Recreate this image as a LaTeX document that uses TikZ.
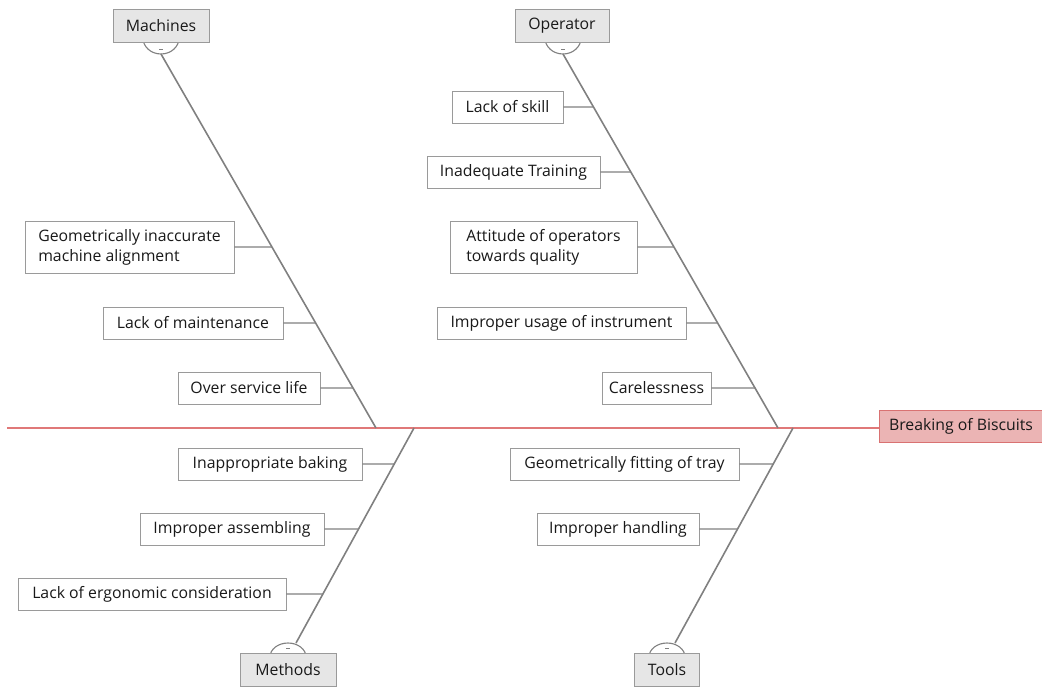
\documentclass[tikz,border=0pt]{standalone}
\usepackage{fontspec}
\setmainfont{Open Sans}
\usetikzlibrary{calc}
\definecolor{bonegray}{HTML}{808080}
\definecolor{boxgray}{HTML}{9A9A9A}
\definecolor{catfill}{HTML}{E6E6E6}
\definecolor{spinered}{HTML}{E07878}
\definecolor{headfill}{HTML}{EBB4B4}
\definecolor{headdraw}{HTML}{D97272}
\tikzset{
  leaf/.style={draw=boxgray, line width=0.9pt, fill=white, inner sep=0pt, font=\fontsize{15.8}{20}\selectfont, align=left, text=black!90},
  cat/.style={draw=boxgray, line width=0.9pt, fill=catfill, inner sep=0pt, font=\fontsize{15.8}{19}\selectfont, text=black!90, minimum height=33pt},
  bone/.style={draw=bonegray, line width=1.6pt},
  twig/.style={draw=bonegray, line width=1.4pt},
  bulb/.style={draw=bonegray, line width=1.1pt, fill=white},
}
\begin{document}
\begin{tikzpicture}[x=1pt,y=-1pt]
\useasboundingbox (0,0) rectangle (1042,686);
% spine
\node[draw=headdraw, fill=headfill, line width=0.9pt, inner sep=0pt, minimum width=170pt, minimum height=32pt, font=\fontsize{15.8}{19}\selectfont, text=black!90, anchor=west] (head) at (879,426) {\hspace*{-7pt}Breaking of Biscuits};
\coordinate (sL) at (7,428);
\draw[spinered, line width=1.3pt] (sL) -- (sL -| head.west);

% bone coordinates
\coordinate (mA) at (161,54);  \coordinate (mB) at (376,428);
\coordinate (oA) at (563,54);  \coordinate (oB) at (778,428);
\coordinate (tA) at (414,428); \coordinate (tB) at (296,643);
\coordinate (uA) at (793,428); \coordinate (uB) at (675,643);

% bulbs (y axis points down)
\draw[bulb] (143,38) arc[start angle=180, end angle=0, x radius=18, y radius=16];
\draw[bulb] (545,38) arc[start angle=180, end angle=0, x radius=18, y radius=16];
\draw[bulb] (270,657) arc[start angle=180, end angle=360, x radius=18, y radius=14];
\draw[bulb] (649,657) arc[start angle=180, end angle=360, x radius=18, y radius=14];
\draw[bonegray, line width=0.9pt] (159,49) -- (163,49);
\draw[bonegray, line width=0.9pt] (561,49) -- (565,49);
\draw[bonegray, line width=0.9pt] (286,648) -- (290,648);
\draw[bonegray, line width=0.9pt] (665,648) -- (669,648);

% bones
\draw[bone] (mA) -- (mB);
\draw[bone] (oA) -- (oB);
\draw[bone] (tA) -- (tB);
\draw[bone] (uA) -- (uB);

% categories
\node[cat, minimum width=96pt] (mach) at (161,26) {Machines};
\node[cat, minimum width=94pt] (oper) at (562,26) {Operator};
\node[cat, minimum width=96pt] (meth) at (288,669.5) {Methods};
\node[cat, minimum width=65pt] (tool) at (667,669.5) {Tools};

% Machines leaves
\node[leaf, minimum width=209pt, minimum height=52pt] (m1) at (129.5,247) {Geometrically inaccurate\\machine alignment};
\node[leaf, minimum width=180pt, minimum height=32pt] (m2) at (193,323) {Lack of maintenance};
\node[leaf, minimum width=142pt, minimum height=32pt] (m3) at (249,388) {Over service life};
\draw[twig] (m1.east) -- ($(mA)!{193/374}!(mB)$);
\draw[twig] (m2.east) -- ($(mA)!{269/374}!(mB)$);
\draw[twig] (m3.east) -- ($(mA)!{334/374}!(mB)$);

% Operator leaves
\node[leaf, minimum width=111pt, minimum height=32pt] (o1) at (507.5,107) {Lack of skill};
\node[leaf, minimum width=173pt, minimum height=32pt] (o2) at (513.5,172) {Inadequate Training};
\node[leaf, minimum width=187pt, minimum height=52pt] (o3) at (543.5,247) {Attitude of operators\\towards quality};
\node[leaf, minimum width=249pt, minimum height=32pt] (o4) at (561.5,323) {Improper usage of instrument};
\node[leaf, minimum width=109pt, minimum height=32pt] (o5) at (656.5,388) {Carelessness};
\draw[twig] (o1.east) -- ($(oA)!{53/374}!(oB)$);
\draw[twig] (o2.east) -- ($(oA)!{118/374}!(oB)$);
\draw[twig] (o3.east) -- ($(oA)!{193/374}!(oB)$);
\draw[twig] (o4.east) -- ($(oA)!{269/374}!(oB)$);
\draw[twig] (o5.east) -- ($(oA)!{334/374}!(oB)$);

% Methods leaves
\node[leaf, minimum width=184pt, minimum height=32pt] (t1) at (270,464) {Inappropriate baking};
\node[leaf, minimum width=184pt, minimum height=32pt] (t2) at (232,529) {Improper assembling};
\node[leaf, minimum width=268pt, minimum height=32pt] (t3) at (152,594) {Lack of ergonomic consideration};
\draw[twig] (t1.east) -- ($(tA)!{36/215}!(tB)$);
\draw[twig] (t2.east) -- ($(tA)!{101/215}!(tB)$);
\draw[twig] (t3.east) -- ($(tA)!{166/215}!(tB)$);

% Tools leaves
\node[leaf, minimum width=229pt, minimum height=32pt] (u1) at (624.5,464) {Geometrically fitting of tray};
\node[leaf, minimum width=162pt, minimum height=32pt] (u2) at (618,529) {Improper handling};
\draw[twig] (u1.east) -- ($(uA)!{36/215}!(uB)$);
\draw[twig] (u2.east) -- ($(uA)!{101/215}!(uB)$);
\end{tikzpicture}
\end{document}
